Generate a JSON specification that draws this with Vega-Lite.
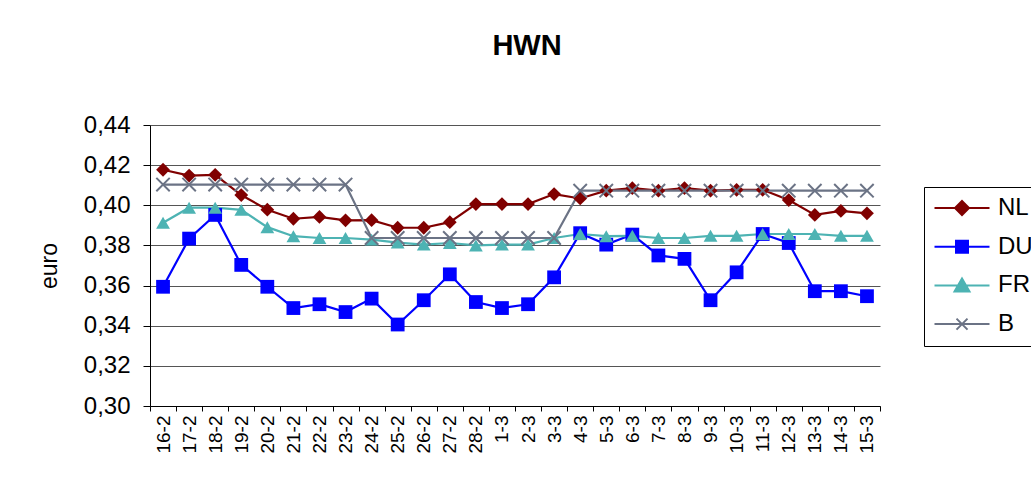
{
  "$schema": "https://vega.github.io/schema/vega-lite/v6.json",
  "autosize": {"type": "none"},
  "padding": {"left": 150, "top": 125, "right": 151, "bottom": 92},
  "width": 730,
  "height": 281,
  "background": "white",
  "title": {
    "text": "HWN",
    "font": "Liberation Sans",
    "fontSize": 29,
    "fontWeight": "bold",
    "color": "black",
    "frame": "group",
    "anchor": "middle",
    "baseline": "alphabetic",
    "offset": 29,
    "dx": 12
  },
  "datasets": {
    "prices": [
      {"d": "16-2", "s": "NL", "v": 0.4177}, {"d": "17-2", "s": "NL", "v": 0.4148}, {"d": "18-2", "s": "NL", "v": 0.4152}, {"d": "19-2", "s": "NL", "v": 0.4051},
      {"d": "20-2", "s": "NL", "v": 0.3978}, {"d": "21-2", "s": "NL", "v": 0.3933}, {"d": "22-2", "s": "NL", "v": 0.3942}, {"d": "23-2", "s": "NL", "v": 0.3925},
      {"d": "24-2", "s": "NL", "v": 0.3926}, {"d": "25-2", "s": "NL", "v": 0.3888}, {"d": "26-2", "s": "NL", "v": 0.3888}, {"d": "27-2", "s": "NL", "v": 0.3916},
      {"d": "28-2", "s": "NL", "v": 0.4006}, {"d": "1-3", "s": "NL", "v": 0.4006}, {"d": "2-3", "s": "NL", "v": 0.4006}, {"d": "3-3", "s": "NL", "v": 0.4056},
      {"d": "4-3", "s": "NL", "v": 0.4034}, {"d": "5-3", "s": "NL", "v": 0.4073}, {"d": "6-3", "s": "NL", "v": 0.4085}, {"d": "7-3", "s": "NL", "v": 0.4073},
      {"d": "8-3", "s": "NL", "v": 0.4086}, {"d": "9-3", "s": "NL", "v": 0.4073}, {"d": "10-3", "s": "NL", "v": 0.4077}, {"d": "11-3", "s": "NL", "v": 0.4077},
      {"d": "12-3", "s": "NL", "v": 0.4026}, {"d": "13-3", "s": "NL", "v": 0.3952}, {"d": "14-3", "s": "NL", "v": 0.3972}, {"d": "15-3", "s": "NL", "v": 0.3960},

      {"d": "16-2", "s": "DU", "v": 0.3594}, {"d": "17-2", "s": "DU", "v": 0.3834}, {"d": "18-2", "s": "DU", "v": 0.3952}, {"d": "19-2", "s": "DU", "v": 0.3703},
      {"d": "20-2", "s": "DU", "v": 0.3594}, {"d": "21-2", "s": "DU", "v": 0.3488}, {"d": "22-2", "s": "DU", "v": 0.3507}, {"d": "23-2", "s": "DU", "v": 0.3468},
      {"d": "24-2", "s": "DU", "v": 0.3535}, {"d": "25-2", "s": "DU", "v": 0.3406}, {"d": "26-2", "s": "DU", "v": 0.3527}, {"d": "27-2", "s": "DU", "v": 0.3656},
      {"d": "28-2", "s": "DU", "v": 0.3518}, {"d": "1-3", "s": "DU", "v": 0.3488}, {"d": "2-3", "s": "DU", "v": 0.3507}, {"d": "3-3", "s": "DU", "v": 0.3641},
      {"d": "4-3", "s": "DU", "v": 0.3861}, {"d": "5-3", "s": "DU", "v": 0.3804}, {"d": "6-3", "s": "DU", "v": 0.3854}, {"d": "7-3", "s": "DU", "v": 0.3750},
      {"d": "8-3", "s": "DU", "v": 0.3733}, {"d": "9-3", "s": "DU", "v": 0.3527}, {"d": "10-3", "s": "DU", "v": 0.3666}, {"d": "11-3", "s": "DU", "v": 0.3857},
      {"d": "12-3", "s": "DU", "v": 0.3812}, {"d": "13-3", "s": "DU", "v": 0.3572}, {"d": "14-3", "s": "DU", "v": 0.3572}, {"d": "15-3", "s": "DU", "v": 0.3547},

      {"d": "16-2", "s": "FR", "v": 0.3913}, {"d": "17-2", "s": "FR", "v": 0.3988}, {"d": "18-2", "s": "FR", "v": 0.3988}, {"d": "19-2", "s": "FR", "v": 0.3977},
      {"d": "20-2", "s": "FR", "v": 0.3891}, {"d": "21-2", "s": "FR", "v": 0.3846}, {"d": "22-2", "s": "FR", "v": 0.3837}, {"d": "23-2", "s": "FR", "v": 0.3837},
      {"d": "24-2", "s": "FR", "v": 0.3829}, {"d": "25-2", "s": "FR", "v": 0.3814}, {"d": "26-2", "s": "FR", "v": 0.3804}, {"d": "27-2", "s": "FR", "v": 0.3812},
      {"d": "28-2", "s": "FR", "v": 0.3800}, {"d": "1-3", "s": "FR", "v": 0.3804}, {"d": "2-3", "s": "FR", "v": 0.3804}, {"d": "3-3", "s": "FR", "v": 0.3837},
      {"d": "4-3", "s": "FR", "v": 0.3857}, {"d": "5-3", "s": "FR", "v": 0.3846}, {"d": "6-3", "s": "FR", "v": 0.3848}, {"d": "7-3", "s": "FR", "v": 0.3837},
      {"d": "8-3", "s": "FR", "v": 0.3837}, {"d": "9-3", "s": "FR", "v": 0.3848}, {"d": "10-3", "s": "FR", "v": 0.3848}, {"d": "11-3", "s": "FR", "v": 0.3857},
      {"d": "12-3", "s": "FR", "v": 0.3857}, {"d": "13-3", "s": "FR", "v": 0.3857}, {"d": "14-3", "s": "FR", "v": 0.3848}, {"d": "15-3", "s": "FR", "v": 0.3848},

      {"d": "16-2", "s": "B", "v": 0.4103}, {"d": "17-2", "s": "B", "v": 0.4103}, {"d": "18-2", "s": "B", "v": 0.4103}, {"d": "19-2", "s": "B", "v": 0.4103},
      {"d": "20-2", "s": "B", "v": 0.4103}, {"d": "21-2", "s": "B", "v": 0.4103}, {"d": "22-2", "s": "B", "v": 0.4103}, {"d": "23-2", "s": "B", "v": 0.4103},
      {"d": "24-2", "s": "B", "v": 0.3837}, {"d": "25-2", "s": "B", "v": 0.3837}, {"d": "26-2", "s": "B", "v": 0.3837}, {"d": "27-2", "s": "B", "v": 0.3837},
      {"d": "28-2", "s": "B", "v": 0.3837}, {"d": "1-3", "s": "B", "v": 0.3837}, {"d": "2-3", "s": "B", "v": 0.3837}, {"d": "3-3", "s": "B", "v": 0.3837},
      {"d": "4-3", "s": "B", "v": 0.4073}, {"d": "5-3", "s": "B", "v": 0.4073}, {"d": "6-3", "s": "B", "v": 0.4073}, {"d": "7-3", "s": "B", "v": 0.4073},
      {"d": "8-3", "s": "B", "v": 0.4073}, {"d": "9-3", "s": "B", "v": 0.4073}, {"d": "10-3", "s": "B", "v": 0.4073}, {"d": "11-3", "s": "B", "v": 0.4073},
      {"d": "12-3", "s": "B", "v": 0.4073}, {"d": "13-3", "s": "B", "v": 0.4073}, {"d": "14-3", "s": "B", "v": 0.4073}, {"d": "15-3", "s": "B", "v": 0.4073}
    ]
  },
  "data": {"name": "prices"},
  "encoding": {
    "x": {
      "field": "d", "type": "ordinal", "sort": null,
      "axis": {
        "title": null, "labelAngle": 270, "labelFont": "Liberation Sans", "labelFontSize": 19,
        "labelColor": "black", "domainColor": "black", "tickColor": "black", "tickSize": 5,
        "tickBand": "extent", "labelPadding": 4, "grid": false, "labelBaseline": "middle", "labelAlign": "right"
      }
    },
    "y": {
      "field": "v", "type": "quantitative",
      "scale": {"domain": [0.3, 0.44], "nice": false, "zero": false},
      "axis": {
        "title": "euro", "titleFont": "Liberation Sans", "titleFontSize": 23, "titleFontWeight": "normal", "titleColor": "black",
        "titlePadding": 22,
        "values": [0.30, 0.32, 0.34, 0.36, 0.38, 0.40, 0.42, 0.44],
        "labelExpr": "replace(format(datum.value, '.2f'), '.', ',')",
        "labelFont": "Liberation Sans", "labelFontSize": 24, "labelColor": "black", "labelPadding": 13,
        "domainColor": "black", "tickColor": "black", "tickSize": 7,
        "grid": true, "gridColor": "#555555", "gridWidth": 1
      }
    }
  },
  "layer": [
    {
      "mark": {"type": "line", "strokeWidth": 2.2},
      "encoding": {
        "color": {
          "field": "s", "type": "nominal",
          "scale": {"domain": ["NL", "DU", "FR", "B"], "range": ["#800000", "#0000ff", "#4db3b3", "#6b7385"]},
          "legend": {
            "title": null, "orient": "none", "legendX": 774, "legendY": 62,
            "strokeColor": "black", "padding": 9, "fillColor": "white",
            "symbolSize": 400, "symbolOffset": 17, "symbolStrokeWidth": 2,
            "labelFont": "Liberation Sans", "labelFontSize": 24, "labelColor": "black", "labelOffset": 24,
            "rowPadding": 14.7,
            "encode": {
              "symbols": {
                "update": {
                  "shape": {"signal": "datum.value === 'NL' ? 'M-2.75,0H2.75M0,-0.7L0.7,0L0,0.7L-0.7,0Z' : datum.value === 'DU' ? 'M-2.75,0H2.75M-0.6,-0.6H0.6V0.6H-0.6Z' : datum.value === 'FR' ? 'M-2.75,0H2.75M0,-0.7L0.75,0.6H-0.75Z' : 'M-2.75,0H2.75M-0.55,-0.55L0.55,0.55M0.55,-0.55L-0.55,0.55'"},
                  "fill": {"signal": "datum.value === 'NL' ? '#800000' : datum.value === 'DU' ? '#0000ff' : datum.value === 'FR' ? '#4db3b3' : 'transparent'"},
                  "stroke": {"signal": "datum.value === 'NL' ? '#800000' : datum.value === 'DU' ? '#0000ff' : datum.value === 'FR' ? '#4db3b3' : '#6b7385'"}
                }
              }
            }
          }
        }
      }
    },
    {
      "transform": [{"filter": "datum.s !== 'B'"}],
      "mark": {"type": "point", "filled": true, "opacity": 1, "size": 190},
      "encoding": {
        "color": {"field": "s", "type": "nominal"},
        "shape": {
          "field": "s", "type": "nominal", "legend": null,
          "scale": {"domain": ["NL", "DU", "FR"], "range": ["diamond", "square", "triangle-up"]}
        }
      }
    },
    {
      "transform": [{"filter": "datum.s === 'B'"}],
      "mark": {"type": "point", "filled": false, "opacity": 1, "color": "#6b7385", "strokeWidth": 2, "size": 180,
               "shape": "M-1,-1L1,1M1,-1L-1,1"}
    }
  ],
  "config": {
    "view": {"stroke": null},
    "axis": {"domainWidth": 1, "tickWidth": 1}
  }
}
